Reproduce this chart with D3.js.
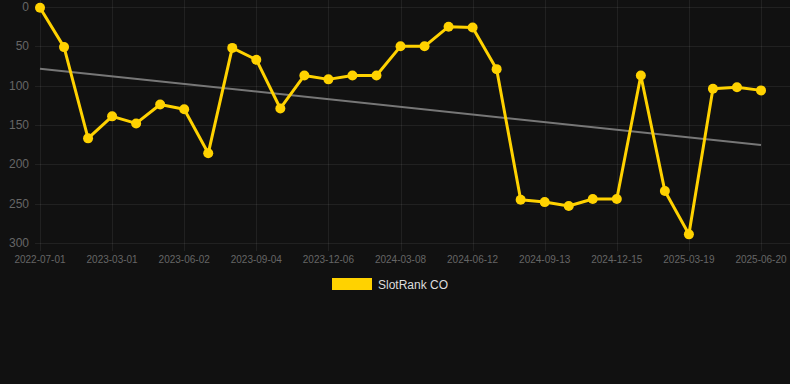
<!DOCTYPE html>
<html>
<head>
<meta charset="utf-8">
<script src="https://cdn.jsdelivr.net/npm/d3@7"></script>
<style>
  html, body { margin: 0; padding: 0; background: #111111; }
  svg { display: block; font-family: Arial, "Liberation Sans", sans-serif; }
</style>
</head>
<body>
<div id="container"></div>
<script>
// rank per snapshot (lower is better), 31 points
const rankValues = [1, 51, 167, 139, 148, 124, 130, 186, 52, 67, 129, 87, 92, 87, 87,
  50, 50, 25, 26, 79, 245, 248, 253, 244, 244, 87, 234, 289, 104, 102, 106];
// visible x tick labels, one every 3 points
const xTickLabels = ["2022-07-01", "2023-03-01", "2023-06-02", "2023-09-04", "2023-12-06",
  "2024-03-08", "2024-06-12", "2024-09-13", "2024-12-15", "2025-03-19", "2025-06-20"];
const yTicks = [0, 50, 100, 150, 200, 250, 300];
const seriesName = "SlotRank CO";

const width = 790, height = 384;
const plotL = 40, plotR = 761, plotT = 7, plotB = 243;
const gold = "#ffd200";

const svg = d3.select("#container").append("svg")
  .attr("width", width).attr("height", height);

const x = d3.scaleLinear().domain([0, rankValues.length - 1]).range([plotL, plotR]);
const y = d3.scaleLinear().domain([0, 300]).range([plotT, plotB]);

// horizontal grid
svg.append("g").selectAll("line").data(yTicks).join("line")
  .attr("x1", plotL - 5).attr("x2", width)
  .attr("y1", d => Math.round(y(d)) + 0.5).attr("y2", d => Math.round(y(d)) + 0.5)
  .attr("stroke", "rgba(255,255,255,0.07)");

svg.append("g").selectAll("text").data(yTicks).join("text")
  .attr("x", 29).attr("y", d => y(d) + 4)
  .attr("text-anchor", "end")
  .attr("font-size", 12)
  .attr("fill", "#666")
  .text(d => d);

// vertical grid at shown ticks
const tickIdx = xTickLabels.map((_, i) => i * 3);
svg.append("g").selectAll("line").data(tickIdx).join("line")
  .attr("x1", d => Math.round(x(d)) + 0.5).attr("x2", d => Math.round(x(d)) + 0.5)
  .attr("y1", 0).attr("y2", plotB + 8)
  .attr("stroke", "rgba(255,255,255,0.07)");

svg.append("g").selectAll("text").data(tickIdx).join("text")
  .attr("x", d => x(d)).attr("y", plotB + 20)
  .attr("text-anchor", "middle")
  .attr("font-size", 10)
  .attr("fill", "#666")
  .text((d, i) => xTickLabels[i]);

// linear regression trend
const n = rankValues.length;
const mx = d3.mean(rankValues, (d, i) => i);
const my = d3.mean(rankValues);
const slope = d3.sum(rankValues, (d, i) => (i - mx) * (d - my)) / d3.sum(rankValues, (d, i) => (i - mx) ** 2);
const icpt = my - slope * mx;
svg.append("line")
  .attr("x1", x(0)).attr("y1", y(icpt))
  .attr("x2", x(n - 1)).attr("y2", y(icpt + slope * (n - 1)))
  .attr("stroke", "#777").attr("stroke-width", 2);

// series
svg.append("path")
  .datum(rankValues)
  .attr("fill", "none")
  .attr("stroke", gold)
  .attr("stroke-width", 3)
  .attr("stroke-linejoin", "round")
  .attr("d", d3.line().x((d, i) => x(i)).y(d => y(d)));

svg.append("g").selectAll("circle").data(rankValues).join("circle")
  .attr("cx", (d, i) => x(i)).attr("cy", d => y(d))
  .attr("r", 5)
  .attr("fill", gold);

// legend
const lg = svg.append("g").attr("transform", "translate(332,278)");
lg.append("rect").attr("width", 40).attr("height", 12).attr("fill", gold);
lg.append("text").attr("x", 46).attr("y", 11)
  .attr("font-size", 12).attr("fill", "#ddd").text(seriesName);
</script>
</body>
</html>
